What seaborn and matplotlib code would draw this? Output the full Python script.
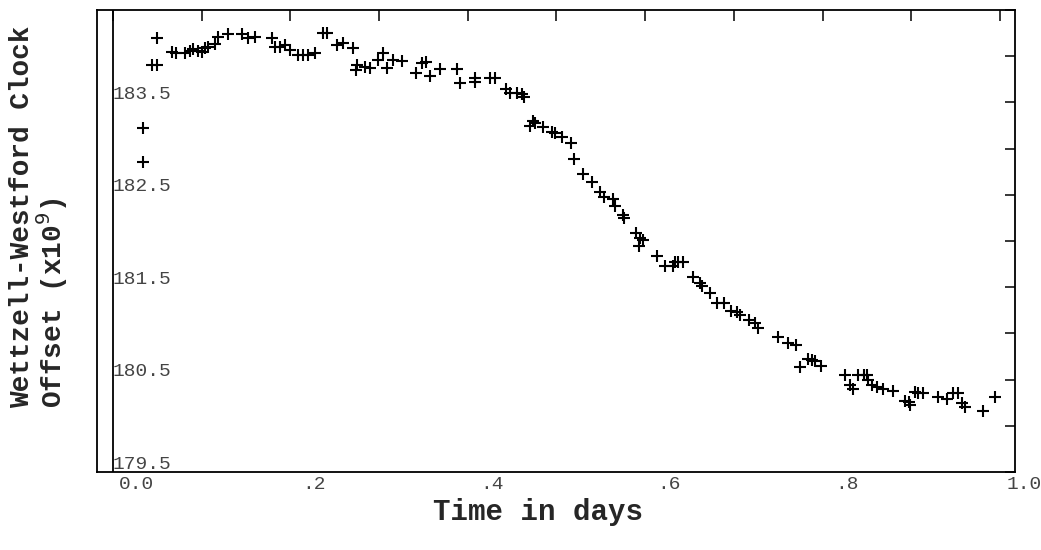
import numpy as np
import pandas as pd
import matplotlib
matplotlib.use("Agg")
import matplotlib.pyplot as plt
import matplotlib.transforms as mtransforms
import seaborn as sns

# clock offset samples
time_days = [
    0.034, 0.034, 0.044, 0.050, 0.050, 0.067, 0.071, 0.081, 0.087, 0.090,
    0.096, 0.100, 0.104, 0.107, 0.115, 0.118, 0.130, 0.145, 0.152, 0.160,
    0.179, 0.183, 0.188, 0.194, 0.200, 0.209, 0.214, 0.220, 0.228, 0.237,
    0.241, 0.253, 0.259, 0.271, 0.275, 0.274, 0.284, 0.290, 0.299, 0.304,
    0.309, 0.316, 0.326, 0.342, 0.348, 0.353, 0.357, 0.369, 0.388, 0.391,
    0.408, 0.408, 0.425, 0.431, 0.443, 0.448, 0.455, 0.461, 0.463, 0.470,
    0.474, 0.476, 0.485, 0.495, 0.498, 0.506, 0.516, 0.520, 0.530, 0.540,
    0.549, 0.554, 0.564, 0.566, 0.575, 0.576, 0.590, 0.594, 0.598, 0.593,
    0.613, 0.622, 0.631, 0.634, 0.637, 0.643, 0.654, 0.662, 0.664, 0.673,
    0.681, 0.689, 0.697, 0.704, 0.707, 0.717, 0.724, 0.727, 0.750, 0.761,
    0.770, 0.775, 0.784, 0.788, 0.791, 0.798, 0.825, 0.831, 0.834, 0.840,
    0.847, 0.850, 0.851, 0.856, 0.861, 0.868, 0.879, 0.893, 0.899, 0.897,
    0.904, 0.908, 0.913, 0.930, 0.940, 0.947, 0.953, 0.957, 0.961, 0.981,
    0.994,
]
clock_offset = [
    183.223, 182.855, 183.905, 183.905, 184.197, 184.045, 184.035, 184.035, 184.056, 184.078,
    184.056, 184.045, 184.089, 184.100, 184.132, 184.208, 184.240, 184.240, 184.197, 184.208,
    184.197, 184.100, 184.100, 184.121, 184.067, 184.013, 184.013, 184.013, 184.035, 184.251,
    184.251, 184.121, 184.143, 184.089, 183.905, 183.851, 183.883, 183.872, 183.959, 184.035,
    183.872, 183.959, 183.948, 183.818, 183.926, 183.937, 183.786, 183.862, 183.862, 183.710,
    183.764, 183.721, 183.764, 183.764, 183.645, 183.602, 183.602, 183.591, 183.558, 183.245,
    183.299, 183.277, 183.234, 183.180, 183.169, 183.126, 183.061, 182.887, 182.725, 182.638,
    182.530, 182.476, 182.455, 182.379, 182.281, 182.249, 182.087, 182.032, 182.011, 181.946,
    181.838, 181.729, 181.729, 181.773, 181.773, 181.773, 181.610, 181.545, 181.513, 181.437,
    181.329, 181.329, 181.242, 181.232, 181.199, 181.145, 181.113, 181.058, 180.961, 180.896,
    180.874, 180.636, 180.723, 180.712, 180.701, 180.647, 180.550, 180.442, 180.398, 180.550,
    180.550, 180.550, 180.496, 180.442, 180.420, 180.398, 180.377, 180.268, 180.225, 180.258,
    180.366, 180.355, 180.355, 180.312, 180.290, 180.355, 180.355, 180.247, 180.203, 180.160,
    180.312,
]

x_ticks = [0.0, 0.1, 0.2, 0.3, 0.4, 0.5, 0.6, 0.7, 0.8, 0.9, 1.0]
x_tick_labels = ["0.0", "", ".2", "", ".4", "", ".6", "", ".8", "", "1.0"]
y_ticks = [179.5, 180.0, 180.5, 181.0, 181.5, 182.0, 182.5, 183.0, 183.5, 184.0, 184.5]
y_tick_labels = ["179.5", "", "180.5", "", "181.5", "", "182.5", "", "183.5", "", ""]

sns.set_style("white")
plt.rcParams["font.family"] = ["Liberation Mono", "DejaVu Sans Mono"]

df = pd.DataFrame({"time": time_days, "offset": clock_offset})

fig = plt.figure(figsize=(10.41, 5.5), dpi=100)
ax = fig.add_axes([0.0932, 0.1418, 0.8818, 0.8400])

sns.scatterplot(data=df, x="time", y="offset", marker="+", color="black",
                s=70, linewidth=1.5, ax=ax, legend=False)

# the zero-day axis line drawn inside the frame
ax.axvline(0.0, color="black", lw=1.3, zorder=1)

ax.set_xlim(-0.018, 1.017)
ax.set_ylim(179.5, 184.5)
for side in ax.spines.values():
    side.set_color("black")
    side.set_linewidth(1.3)

ax.set_xticks(x_ticks)
ax.set_xticklabels(x_tick_labels)
ax.set_yticks(y_ticks)
ax.set_yticklabels(y_tick_labels)
ax.tick_params(axis="x", direction="in", length=8, width=1.3, top=True,
               labelsize=14, labelcolor="#444444", pad=3)
ax.tick_params(axis="y", direction="in", length=7, width=1.3, right=True,
               labelsize=14, labelcolor="#444444", pad=-11)
ax.set_xlabel("")
ax.set_ylabel("")

# tick labels in the scan sit a little off their ticks
x_shift = mtransforms.ScaledTranslation(24 / 100, 0, fig.dpi_scale_trans)
for lab in ax.get_xticklabels():
    lab.set_transform(lab.get_transform() + x_shift)
y_shift = mtransforms.ScaledTranslation(0, 10 / 100, fig.dpi_scale_trans)
for lab in ax.get_yticklabels():
    lab.set_horizontalalignment("left")
    lab.set_transform(lab.get_transform() + y_shift)

fig.text(0.517, 0.069, "Time in days", ha="center", va="center",
         fontsize=21, fontweight="bold")
fig.text(0.038, 0.605, "Wettzell-Westford Clock\nOffset (x10$^{9}$)",
         rotation=90, ha="center", va="center", multialignment="left",
         fontsize=20, fontweight="bold", linespacing=0.95)

fig.savefig("out.png", dpi=100)
